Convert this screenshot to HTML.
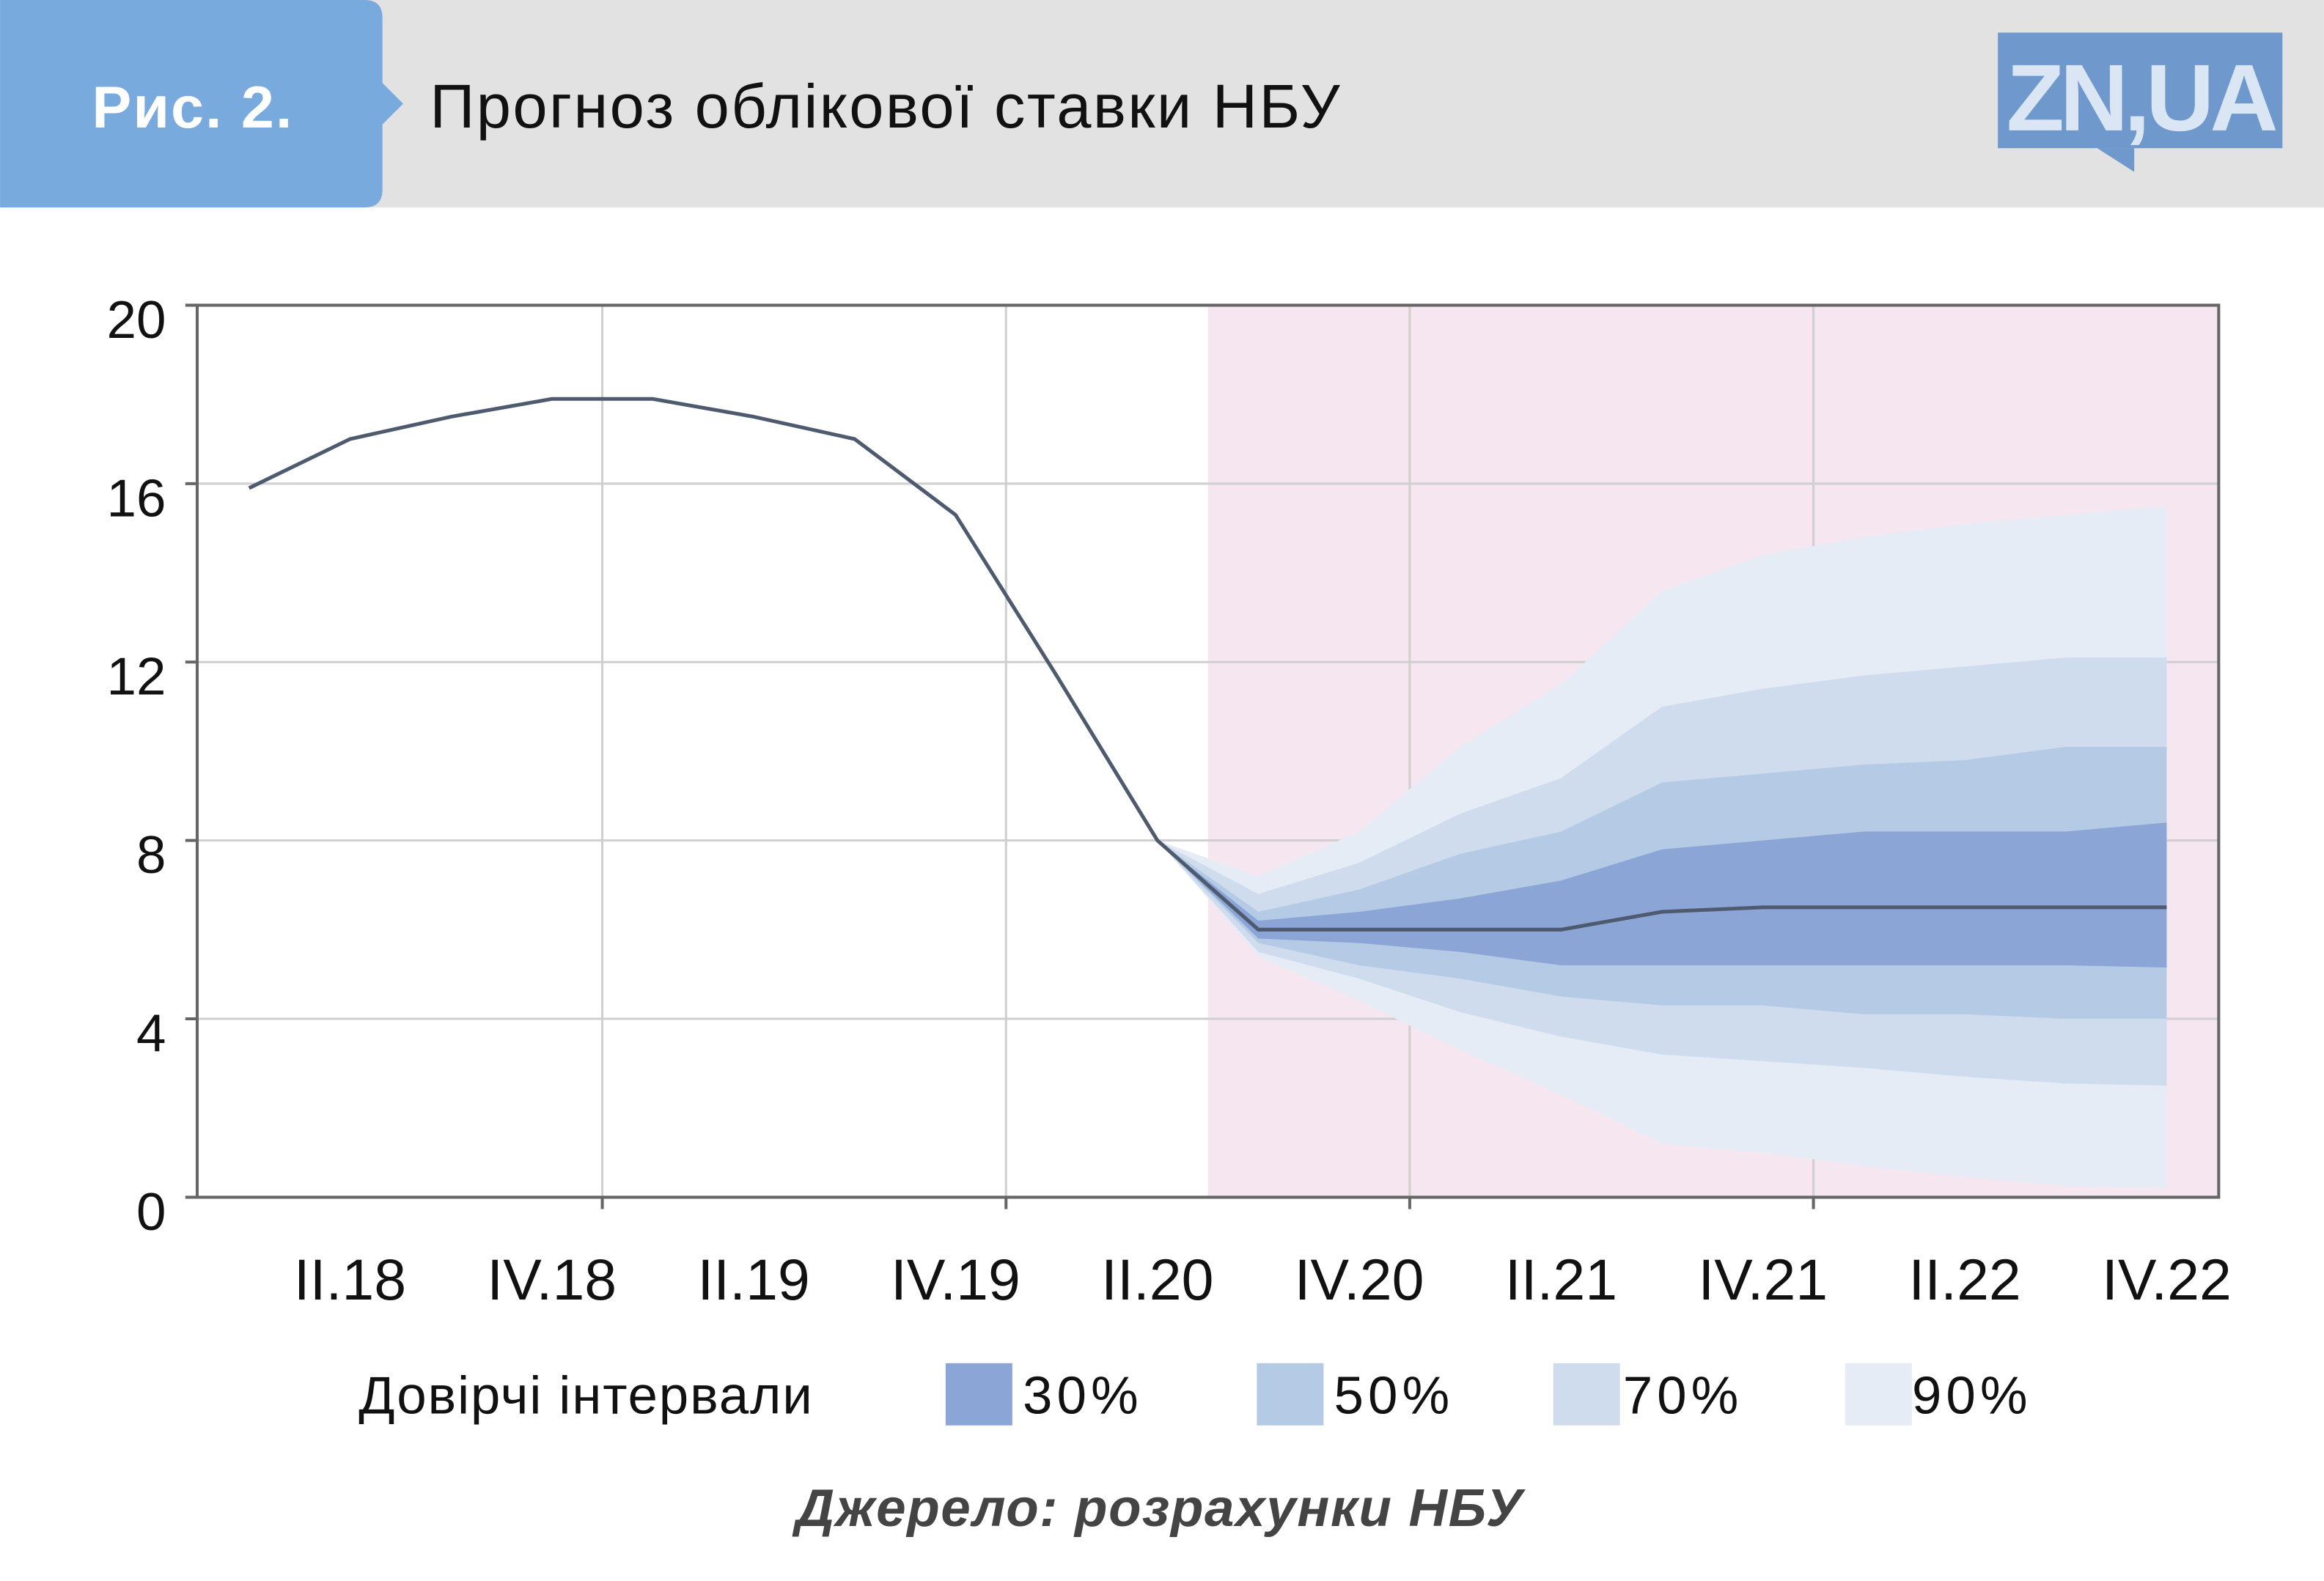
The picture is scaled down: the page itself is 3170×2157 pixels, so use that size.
<!DOCTYPE html>
<html><head><meta charset="utf-8">
<style>
html,body{margin:0;padding:0;background:#fff;}
svg{display:block;font-family:"Liberation Sans","DejaVu Sans",sans-serif;}
</style></head>
<body>
<svg id="chart" width="3170" height="2157" viewBox="0 0 1568 1067" xmlns="http://www.w3.org/2000/svg">
<rect x="0" y="0" width="1568" height="140" fill="#e2e2e2"/>
<path d="M0,0 H246 Q258,0 258,12 V56 L272,70 L258,84 V128 Q258,140 246,140 H0 Z" fill="#79aade"/>
<text x="62" y="86" font-size="40" font-weight="bold" fill="#fff" textLength="135">Рис. 2.</text>
<text x="290" y="86" font-size="42" fill="#111" textLength="614">Прогноз облікової ставки НБУ</text>
<g>
<rect x="1348" y="22" width="192" height="78" fill="#6f98cc"/>
<path d="M1415,100 L1440,116 L1440,100 Z" fill="#6f98cc"/>
<text x="1444" y="88" font-size="64" font-weight="bold" fill="#dbe6f4" text-anchor="middle" letter-spacing="-3">ZN,UA</text>
</g>
<rect x="815" y="206" width="682" height="602" fill="#f5e6f0"/>
<g id="grid"></g>
<g id="fans"></g>
<g id="axes"></g>
<g id="legend">
<text x="242" y="954" font-size="36" fill="#111" textLength="306">Довірчі інтервали</text>
<rect x="638" y="920" width="45" height="42" fill="#8ba5d6"/>
<text x="690" y="954" font-size="36" fill="#111" textLength="78">30%</text>
<rect x="848" y="920" width="45" height="42" fill="#b5cbe5"/>
<text x="900" y="954" font-size="36" fill="#111" textLength="78">50%</text>
<rect x="1048" y="920" width="45" height="42" fill="#cfdcee"/>
<text x="1095" y="954" font-size="36" fill="#111" textLength="78">70%</text>
<rect x="1245" y="920" width="45" height="42" fill="#e5ecf6"/>
<text x="1290" y="954" font-size="36" fill="#111" textLength="78">90%</text>
</g>
<text x="537" y="1030" font-size="36" font-weight="bold" font-style="italic" fill="#444" textLength="490">Джерело: розрахунки НБУ</text>
</svg>
<script>
const yTicks = [0, 4, 8, 12, 16, 20];
const xLabels = ["II.18","IV.18","II.19","IV.19","II.20","IV.20","II.21","IV.21","II.22","IV.22"];
const histRate = [15.9, 17.0, 17.5, 17.9, 17.9, 17.5, 17.0, 15.3, 11.7, 8.0, 6.0, 6.0, 6.0, 6.0, 6.4, 6.5, 6.5, 6.5, 6.5, 6.5];
const fanStart = 9;
const up90 = [8, 7.2, 8.2, 10.1, 11.5, 13.6, 14.4, 14.8, 15.1, 15.3, 15.5];
const up70 = [8, 6.8, 7.5, 8.6, 9.4, 11.0, 11.4, 11.7, 11.9, 12.1, 12.1];
const up50 = [8, 6.4, 6.9, 7.7, 8.2, 9.3, 9.5, 9.7, 9.8, 10.1, 10.1];
const up30 = [8, 6.2, 6.4, 6.7, 7.1, 7.8, 8.0, 8.2, 8.2, 8.2, 8.4];
const lo30 = [8, 5.8, 5.7, 5.5, 5.2, 5.2, 5.2, 5.2, 5.2, 5.2, 5.15];
const lo50 = [8, 5.7, 5.2, 4.9, 4.5, 4.3, 4.3, 4.1, 4.1, 4.0, 4.0];
const lo70 = [8, 5.5, 4.9, 4.15, 3.6, 3.2, 3.05, 2.9, 2.7, 2.55, 2.5];
const lo90 = [8, 5.4, 4.4, 3.3, 2.3, 1.2, 1.0, 0.7, 0.45, 0.25, 0.2];

const NS = "http://www.w3.org/2000/svg";
const X0 = 133, X1 = 1497, Y0 = 808, Y1 = 206;
const x = i => 168 + i * 68.1;
const y = v => Y0 - (v / 20) * (Y0 - Y1);
function mk(tag, attrs, parent){ const e=document.createElementNS(NS,tag); for(const k in attrs) e.setAttribute(k,attrs[k]); parent.appendChild(e); return e; }

const grid = document.getElementById('grid');
yTicks.forEach(t => {
  const l = mk('line',{x1:X0,x2:X1,y1:y(t),y2:y(t),stroke:'#cfcfcf','stroke-width':1.5},grid);
  
  
});
[3,7,11,15].forEach(i => {
  const gx = x(i + 0.5);
  const l = mk('line',{x1:gx,x2:gx,y1:Y1,y2:Y0,stroke:'#cfcfcf','stroke-width':1.5},grid);
  
  
});

const fans = document.getElementById('fans');
function band(up, lo, color, name){
  let d = '';
  up.forEach((v,k)=>{ d += (k?'L':'M') + x(fanStart+k) + ',' + y(v); });
  for(let k=lo.length-1;k>=0;k--) d += 'L' + x(fanStart+k) + ',' + y(lo[k]);
  const p = mk('path',{d:d+'Z',fill:color},fans);
  
  
}
band(up90, lo90, '#e5ecf6', 'band-90');
band(up70, lo70, '#cfdcee', 'band-70');
band(up50, lo50, '#b5cbe5', 'band-50');
band(up30, lo30, '#8ba5d6', 'band-30');

const axes = document.getElementById('axes');
let d = '';
histRate.forEach((v,i)=>{ d += (i?'L':'M') + x(i) + ',' + y(v); });
const line = mk('path',{d:d,fill:'none',stroke:'#4e5a6e','stroke-width':2.5},axes);



const frame = mk('path',{d:`M${X0},${Y1} H${X1} V${Y0} H${X0} Z`,fill:'none',stroke:'#666','stroke-width':2},axes);



yTicks.forEach(t => {
  const tk = mk('line',{x1:X0-8,x2:X0,y1:y(t),y2:y(t),stroke:'#666','stroke-width':2},axes);
  
  
  const tx = mk('text',{x:112,y:y(t)+22,'font-size':36,'text-anchor':'end',fill:'#111'},axes);
  tx.textContent = t;
  
  
});
[3,7,11,15].forEach(i => {
  const gx = x(i + 0.5);
  const tk = mk('line',{x1:gx,x2:gx,y1:Y0,y2:Y0+8,stroke:'#666','stroke-width':2},axes);
  
  
});
xLabels.forEach((lab,k) => {
  const tx = mk('text',{x:x(1+2*k),y:877,'font-size':39,'text-anchor':'middle',fill:'#111'},axes);
  tx.textContent = lab;
  
  
});
</script>
</body></html>
